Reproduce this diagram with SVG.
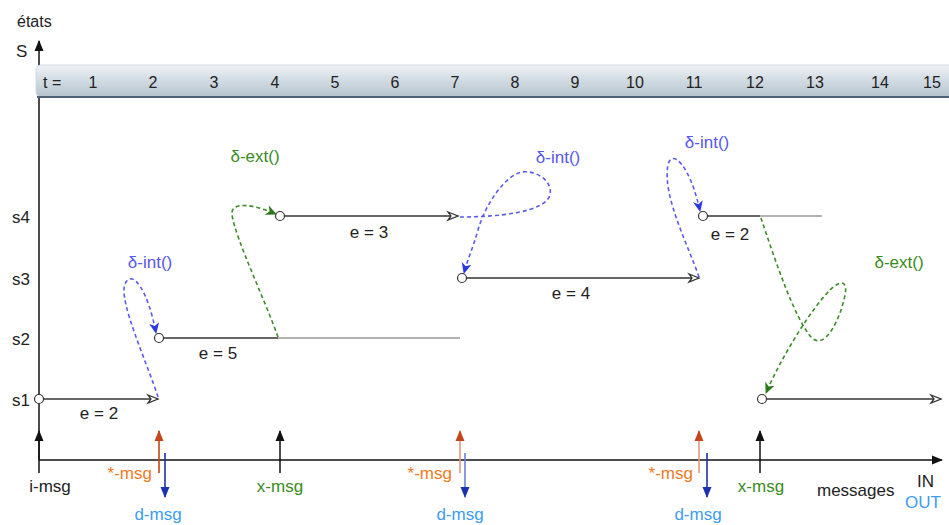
<svg xmlns="http://www.w3.org/2000/svg" width="949" height="525" viewBox="0 0 949 525">
<style>
text{font-family:"Liberation Sans",Arial,Helvetica,sans-serif;font-size:17px;fill:#222}
.n{font-size:16px}
.c{text-anchor:middle}
.e{text-anchor:end}
.st{stroke:#333;stroke-width:1.5;fill:none}
.gr{stroke:#999;stroke-width:1.5;fill:none}
.dot{fill:#fff;stroke:#333;stroke-width:1.2}
.bl{stroke:#5a5af0;stroke-width:1.6;stroke-dasharray:4 3;fill:none}
.gn{stroke:#3e8a2a;stroke-width:1.6;stroke-dasharray:4 3;fill:none}
.tblue{fill:#5555f0}
.tgreen{fill:#3b8a1e}
.torange{fill:#f07a1e}
.tlb{fill:#3d9cf0}
.ax{stroke:#111;stroke-width:1.5;fill:none}
</style>
<defs>
<linearGradient id="band" x1="0" y1="0" x2="0" y2="1">
<stop offset="0" stop-color="#f0f3f6"/>
<stop offset="0.45" stop-color="#d3dce3"/>
<stop offset="1" stop-color="#b6c4cf"/>
</linearGradient>
<marker id="open" markerWidth="14" markerHeight="12" refX="12" refY="6" orient="auto" markerUnits="userSpaceOnUse">
<path d="M2,2 L12,6 L2,10 L5,6 z" fill="#fff" stroke="#333" stroke-width="1.3"/>
</marker>
<marker id="hk" markerWidth="12" markerHeight="10" refX="10" refY="5" orient="auto" markerUnits="userSpaceOnUse">
<path d="M0,0.5 L11,5 L0,9.5 z" fill="#111"/>
</marker>
<marker id="hor" markerWidth="12" markerHeight="10" refX="10" refY="5" orient="auto" markerUnits="userSpaceOnUse">
<path d="M0,0.5 L11,5 L0,9.5 z" fill="#c4461a"/>
</marker>
<marker id="hdb" markerWidth="12" markerHeight="10" refX="10" refY="5" orient="auto" markerUnits="userSpaceOnUse">
<path d="M0,0.5 L11,5 L0,9.5 z" fill="#1a32b0"/>
</marker>
<marker id="cb" markerWidth="12" markerHeight="12" refX="10" refY="6" orient="auto" markerUnits="userSpaceOnUse">
<path d="M0,1 L11,6 L0,11 L3,6 z" fill="#2a3ae0"/>
</marker>
<marker id="cg" markerWidth="12" markerHeight="12" refX="10" refY="6" orient="auto" markerUnits="userSpaceOnUse">
<path d="M0,1 L11,6 L0,11 L3,6 z" fill="#2a7a1a"/>
</marker>
</defs>
<rect width="949" height="525" fill="#fff"/>

<g id="axes">
<line class="ax" x1="39" y1="460" x2="39" y2="41" marker-end="url(#hk)"/>
<line class="ax" x1="39" y1="460" x2="942" y2="460" marker-end="url(#hk)"/>
<text x="17" y="27" class="n">états</text>
<text x="16" y="57">S</text>
</g>

<g id="timeband">
<rect x="36" y="65" width="925" height="32" rx="5" fill="url(#band)" stroke="#d4dae0" stroke-width="1"/>
<line x1="37" y1="97" x2="949" y2="97" stroke="#4e6378" stroke-width="2"/>
<g class="n">
<text class="n" x="43" y="88">t =</text>
<text class="c n" x="93" y="88">1</text>
<text class="c n" x="153" y="88">2</text>
<text class="c n" x="214" y="88">3</text>
<text class="c n" x="275" y="88">4</text>
<text class="c n" x="335" y="88">5</text>
<text class="c n" x="395" y="88">6</text>
<text class="c n" x="455" y="88">7</text>
<text class="c n" x="515" y="88">8</text>
<text class="c n" x="575" y="88">9</text>
<text class="c n" x="635" y="88">10</text>
<text class="c n" x="694" y="88">11</text>
<text class="c n" x="755" y="88">12</text>
<text class="c n" x="815" y="88">13</text>
<text class="c n" x="880" y="88">14</text>
<text class="c n" x="932" y="88">15</text>
</g>
</g>

<g id="state-labels">
<text class="c" x="21" y="406">s1</text>
<text class="c" x="21" y="345">s2</text>
<text class="c" x="21" y="285">s3</text>
<text class="c" x="21" y="223">s4</text>
</g>

<g id="seg-s1-a">
<line class="st" x1="43" y1="399" x2="158" y2="399" marker-end="url(#open)"/>
<circle class="dot" cx="39" cy="399" r="4.5"/>
<text class="c" x="99" y="419">e = 2</text>
</g>
<g id="seg-s2">
<line class="st" x1="163" y1="338" x2="278" y2="338"/>
<line class="gr" x1="278" y1="338" x2="460" y2="338"/>
<circle class="dot" cx="159" cy="338" r="4.5"/>
<text class="c" x="218" y="359">e = 5</text>
</g>
<g id="seg-s4-a">
<line class="st" x1="284" y1="216" x2="458" y2="216" marker-end="url(#open)"/>
<circle class="dot" cx="280" cy="216" r="4.5"/>
<text class="c" x="369" y="238">e = 3</text>
</g>
<g id="seg-s3">
<line class="st" x1="466" y1="278" x2="699" y2="278" marker-end="url(#open)"/>
<circle class="dot" cx="462" cy="278" r="4.5"/>
<text class="c" x="571" y="299">e = 4</text>
</g>
<g id="seg-s4-b">
<line class="st" x1="707" y1="216" x2="760" y2="216"/>
<line class="gr" x1="760" y1="216" x2="822" y2="216"/>
<circle class="dot" cx="703" cy="216" r="4.5"/>
<text class="c" x="730" y="240">e = 2</text>
</g>
<g id="seg-s1-b">
<line class="st" x1="766" y1="399" x2="941" y2="399" marker-end="url(#open)"/>
<circle class="dot" cx="762" cy="399" r="4.5"/>
</g>

<g id="connectors">
<path class="bl" d="M158,397 C148,365 118,300 125,284 C132,268 148,290 156,333" marker-end="url(#cb)"/>
<path class="gn" d="M278,337 C265,300 236,240 232,215 C230,200 255,205 276,214" marker-end="url(#cg)"/>
<path class="bl" d="M460,217 C500,217 545,212 550,195 C553,180 535,170 522,172 C505,175 485,205 478,230 C473,248 468,258 464,273" marker-end="url(#cb)"/>
<path class="bl" d="M699,277 C688,245 662,195 668,165 C672,148 690,165 700,211" marker-end="url(#cb)"/>
<path class="gn" d="M761,218 C775,260 795,320 812,338 C825,350 840,320 845,295 C848,280 840,280 830,290 C810,310 780,360 766,393" marker-end="url(#cg)"/>
<text class="c tblue" x="150" y="268">δ-int()</text>
<text class="c tgreen" x="255" y="162">δ-ext()</text>
<text class="c tblue" x="558" y="163">δ-int()</text>
<text class="c tblue" x="707" y="148">δ-int()</text>
<text class="c tgreen" x="899" y="268">δ-ext()</text>
</g>

<g id="messages">
<line class="ax" x1="39" y1="473" x2="39" y2="431" marker-end="url(#hk)"/>
<text class="c" x="50" y="492">i-msg</text>

<line x1="159" y1="473" x2="159" y2="431" stroke="#c4461a" stroke-width="1.6" marker-end="url(#hor)"/>
<line x1="165" y1="453" x2="165" y2="497" stroke="#1a32b0" stroke-width="1.6" marker-end="url(#hdb)"/>
<text class="e torange" x="152" y="479">*-msg</text>
<text class="c tlb" x="158" y="520">d-msg</text>

<line class="ax" x1="280" y1="473" x2="280" y2="431" marker-end="url(#hk)"/>
<text class="c tgreen" x="280" y="492">x-msg</text>

<line x1="460" y1="473" x2="460" y2="431" stroke="#e39a7a" stroke-width="1.6" marker-end="url(#hor)"/>
<line x1="465" y1="453" x2="465" y2="497" stroke="#6a80d8" stroke-width="1.6" marker-end="url(#hdb)"/>
<text class="e torange" x="452" y="479">*-msg</text>
<text class="c tlb" x="460" y="520">d-msg</text>

<line x1="699" y1="473" x2="699" y2="431" stroke="#e39a7a" stroke-width="1.6" marker-end="url(#hor)"/>
<line x1="707" y1="453" x2="707" y2="497" stroke="#1a32b0" stroke-width="1.6" marker-end="url(#hdb)"/>
<text class="e torange" x="693" y="479">*-msg</text>
<text class="c tlb" x="698" y="520">d-msg</text>

<line class="ax" x1="760" y1="473" x2="760" y2="431" marker-end="url(#hk)"/>
<text class="c tgreen" x="761" y="492">x-msg</text>

<text x="817" y="496">messages</text>
<text x="917" y="487">IN</text>
<text class="tlb" x="905" y="508">OUT</text>
</g>
</svg>
